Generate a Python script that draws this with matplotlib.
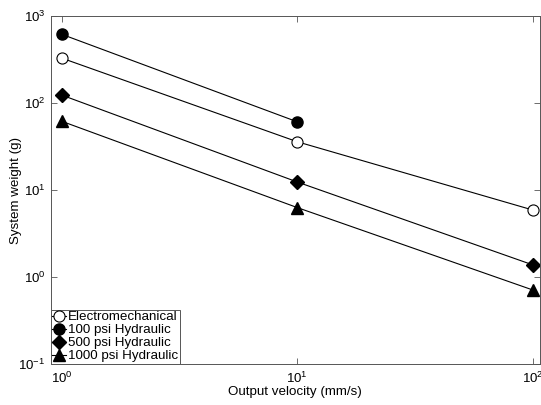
import matplotlib
matplotlib.use("Agg")
import matplotlib.pyplot as plt
from matplotlib.ticker import LogLocator, NullLocator

plt.rcParams["font.family"] = ["Liberation Sans", "DejaVu Sans"]
plt.rcParams["mathtext.fontset"] = "custom"
plt.rcParams["mathtext.rm"] = "Liberation Sans"
plt.rcParams["mathtext.it"] = "Liberation Sans"
plt.rcParams["mathtext.default"] = "regular"

# data
velocity = [1, 10, 100]
electromech = [330, 36, 5.9]
hyd_100 = [620, 61]
hyd_500 = [124, 12.4, 1.38]
hyd_1000 = [62, 6.3, 0.71]

fig = plt.figure(figsize=(5.41, 4.05), dpi=100)
ax = fig.add_axes([0.094, 0.101, 0.904, 0.859])

lw = 0.8
ax.plot(velocity, electromech, "-o", color="black", mfc="white", mec="black",
        mew=0.8, ms=8, lw=lw, label="Electromechanical")
ax.plot(velocity[:2], hyd_100, "-o", color="black", ms=8, lw=lw, label="100 psi Hydraulic")
ax.plot(velocity, hyd_500, "-D", color="black", ms=7, lw=lw, label="500 psi Hydraulic")
ax.plot(velocity, hyd_1000, "-^", color="black", ms=9, lw=lw, label="1000 psi Hydraulic")

ax.set_xscale("log")
ax.set_yscale("log")
ax.set_xlim(0.9, 107)
ax.set_ylim(0.1, 1000)
ax.xaxis.set_major_locator(LogLocator(base=10, numticks=10))
ax.yaxis.set_major_locator(LogLocator(base=10, numticks=10))
ax.xaxis.set_minor_locator(NullLocator())
ax.yaxis.set_minor_locator(NullLocator())
ax.tick_params(which="both", direction="in", top=True, right=True,
               labelsize=9.5, length=4, width=0.6, color="#555555")
ax.tick_params(axis="x", pad=5)
ax.tick_params(axis="y", pad=4)
for s in ax.spines.values():
    s.set_color("#555555")
    s.set_linewidth(0.7)

ax.set_xlabel("Output velocity (mm/s)", fontsize=9.6)
ax.set_ylabel("System weight (g)", fontsize=9.6)
ax.xaxis.set_label_coords(0.5, -0.063)
ax.yaxis.set_label_coords(-0.058, 0.5)

leg = ax.legend(loc="lower left", fontsize=9.6, handlelength=1.0, handletextpad=0.15,
                borderpad=0.12, labelspacing=0.05, borderaxespad=0, fancybox=False,
                framealpha=1)
leg.get_frame().set_edgecolor("#555555")
leg.get_frame().set_linewidth(0.7)

fig.savefig("out.png", dpi=100)
